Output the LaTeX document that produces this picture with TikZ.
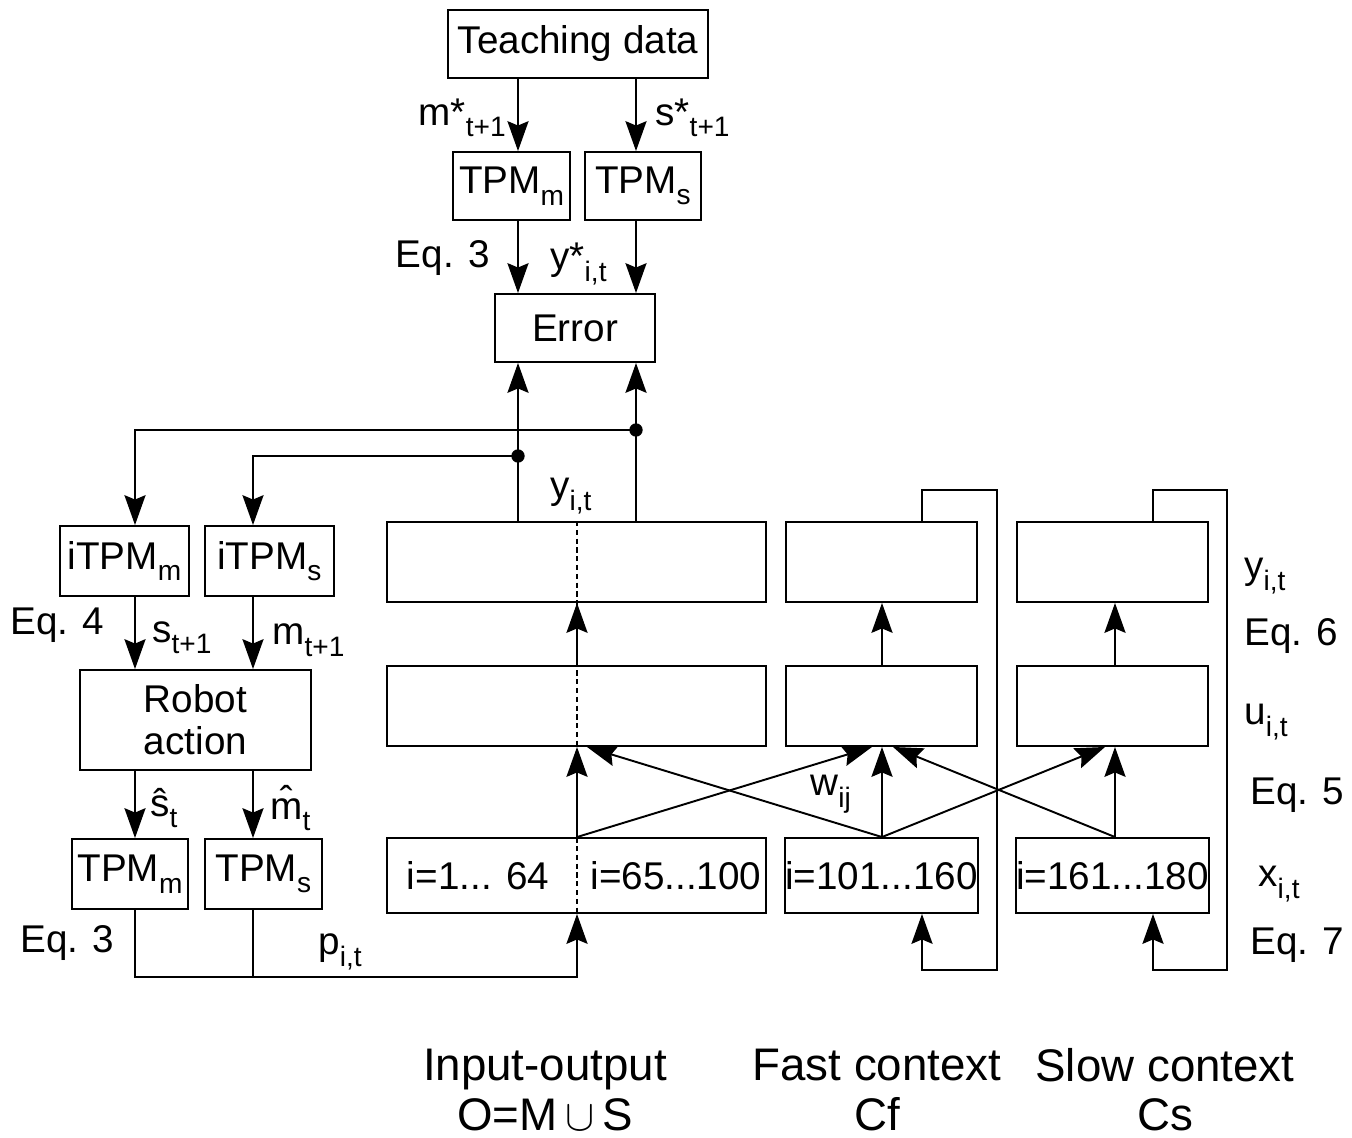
\documentclass[tikz,border=0pt]{standalone}
\usepackage{fontspec}
\setmainfont{Liberation Sans}
\usetikzlibrary{arrows.meta,positioning,calc}
\newcommand{\lowsub}[1]{\raisebox{-6.5pt}{\fontsize{16}{18}\selectfont #1}}

\begin{document}
\begin{tikzpicture}[
		x=0.02cm, y=-0.02cm,
		font=\fontsize{22}{24}\selectfont,
		box/.style   = { rectangle, draw=black, line width=1.1pt, inner sep=0pt,
			minimum height=1.36cm },
		layer/.style = { box, minimum height=1.6cm },
		lbl/.style   = { inner sep=0pt, anchor=west },
		title/.style = { align=center, font=\fontsize{26}{28}\selectfont },
		line/.style  = { draw, line width=1.1pt, -{Stealth[length=17pt,width=12pt,inset=2.5pt]} },
	]
	\useasboundingbox (0,0) rectangle (1352,1138);
	% columns the connectors run on
	\coordinate (cA) at (518,0);
	\coordinate (cB) at (636,0);
	\coordinate (cL) at (135,0);
	\coordinate (cR) at (253,0);
	\coordinate (cIO) at (577,0);
	\coordinate (cF) at (882,0);
	\coordinate (cS) at (1115,0);
	\coordinate (fbF) at (922,0);
	\coordinate (fbS) at (1153,0);
	% Define nodes
	\begin{scope}
		\node [box, minimum width=5.2cm] (teach) at (578,44) {Teaching data};
		\node [box, minimum width=2.34cm] (tpmA) at (511.5,186) {TPM\lowsub{m}};
		\node [box, minimum width=2.32cm, right=0.26cm of tpmA] (tpmB) {TPM\lowsub{s}};
		\node [box, minimum width=3.2cm] (err) at (575,328) {Error};
		\node [box, minimum width=2.58cm, minimum height=1.4cm] (itpmA) at (124.5,561) {iTPM\lowsub{m}};
		\node [box, minimum width=2.58cm, minimum height=1.4cm, right=0.28cm of itpmA] (itpmB) {iTPM\lowsub{s}};
		\node [box, minimum width=4.62cm, minimum height=2cm, align=center] (robot) at (195.5,720) {Robot\\action};
		\node [box, minimum width=2.32cm, minimum height=1.4cm] (tpmC) at (130,874) {TPM\lowsub{m}};
		\node [box, minimum width=2.34cm, minimum height=1.4cm, right=0.3cm of tpmC] (tpmD) {TPM\lowsub{s}};
		% network layers
		\node [layer, minimum width=7.58cm] (ioOut) at (576.5,562) {};
		\node [layer, minimum width=7.58cm] (ioMid) at (576.5,706) {};
		\node [layer, minimum width=7.58cm, minimum height=1.5cm] (ioIn) at (576.5,875.5) {};
		\node [layer, minimum width=3.82cm] (fOut) at (881.5,562) {};
		\node [layer, minimum width=3.82cm] (fMid) at (881.5,706) {};
		\node [layer, minimum width=3.82cm, minimum height=1.5cm] (fIn) at (881.5,875.5) {i=101...160};
		\node [layer, minimum width=3.82cm] (sOut) at (1112.5,562) {};
		\node [layer, minimum width=3.82cm] (sMid) at (1112.5,706) {};
		\node [layer, minimum width=3.82cm, minimum height=1.5cm] (sIn) at (1112.5,875.5) {i=161...180};
		\node (ioInA) at (478,876) {i=1... 64};
		\node (ioInB) at (676,876) {i=65...100};
		% labels
		\node [lbl, anchor=east] (lmstar) at (506,118) {m*\lowsub{t+1}};
		\node [lbl] (lsstar) at (655,118) {s*\lowsub{t+1}};
		\node [lbl, anchor=east] (leqA) at (490,258) {Eq. 3};
		\node [lbl] (lystar) at (550,264) {y*\lowsub{i,t}};
		\node [lbl] (lyout) at (550,496) {y\lowsub{i,t}};
		\node [lbl] (leqB) at (10,625) {Eq. 4};
		\node [lbl] (lsnext) at (152,638) {s\lowsub{t+1}};
		\node [lbl] (lmnext) at (272,640) {m\lowsub{t+1}};
		\node [lbl] (lshat) at (150,808) {\^{s}\lowsub{t}};
		\node [lbl] (lmhat) at (270,808) {\^{m}\lowsub{t}};
		\node [lbl] (leqC) at (20,943) {Eq. 3};
		\node [lbl] (lp) at (318,952) {p\lowsub{i,t}};
		\node [lbl] (lw) at (810,794) {w\lowsub{ij}};
		\node [lbl] (lyR) at (1244,576) {y\lowsub{i,t}};
		\node [lbl] (leqD) at (1244,636) {Eq. 6};
		\node [lbl] (luR) at (1244,722) {u\lowsub{i,t}};
		\node [lbl] (leqE) at (1250,795) {Eq. 5};
		\node [lbl] (lxR) at (1258,884) {x\lowsub{i,t}};
		\node [lbl] (leqF) at (1250,945) {Eq. 7};
		\node [title] (tio) at (545,1090) {Input-output\\O=M\,$\cup$\,S};
		\node [title] (tfast) at (877,1090) {Fast context\\Cf};
		\node [title] (tslow) at (1165,1090) {Slow context\\Cs};
	\end{scope}
	\coordinate (jA) at (518,456);
	\coordinate (jB) at (636,430);
	\coordinate (bus) at (577,977);
	\coordinate (fbFtop) at (997,490);
	\coordinate (fbFbot) at (997,970);
	\coordinate (fbStop) at (1227,490);
	\coordinate (fbSbot) at (1227,970);
	\draw [dash pattern=on 3pt off 2pt, line width=0.8pt] (ioOut.north -| cIO) -- (ioIn.south -| cIO);
	% connect all nodes defined above
	\begin{scope} [every path/.style=line]
		\path (teach.south -| cA) -- (tpmA.north -| cA);
		\path (teach.south -| cB) -- (tpmB.north -| cB);
		\path (tpmA.south -| cA) -- (err.north -| cA);
		\path (tpmB.south -| cB) -- (err.north -| cB);
		\path (ioOut.north -| cA) -- (err.south -| cA);
		\path (ioOut.north -| cB) -- (err.south -| cB);
		\path (jB) -| (itpmA.north -| cL);
		\path (jA) -| (itpmB.north -| cR);
		\path (itpmA.south -| cL) -- (robot.north -| cL);
		\path (itpmB.south -| cR) -- (robot.north -| cR);
		\path (robot.south -| cL) -- (tpmC.north -| cL);
		\path (robot.south -| cR) -- (tpmD.north -| cR);
		\path (tpmC.south -| cL) |- (bus) -- (ioIn.south -| cIO);
		\path[-] (tpmD.south -| cR) -- (bus -| cR);
		\path (ioIn.north -| cIO) -- (ioMid.south -| cIO);
		\path (ioMid.north -| cIO) -- (ioOut.south -| cIO);
		\path (fIn.north -| cF) -- (fMid.south -| cF);
		\path (fMid.north -| cF) -- (fOut.south -| cF);
		\path (sIn.north -| cS) -- (sMid.south -| cS);
		\path (sMid.north -| cS) -- (sOut.south -| cS);
		\path (ioIn.north -| cIO) -- ($(fMid.south -| cF)+(-10,0)$);
		\path (fIn.north -| cF) -- ($(ioMid.south -| cIO)+(10,0)$);
		\path (fIn.north -| cF) -- ($(sMid.south -| cS)+(-10,0)$);
		\path (sIn.north -| cS) -- ($(fMid.south -| cF)+(11,0)$);
		\path (fOut.north -| fbF) |- (fbFtop) -- (fbFbot) -| (fIn.south -| fbF);
		\path (sOut.north -| fbS) |- (fbStop) -- (fbSbot) -| (sIn.south -| fbS);
	\end{scope}
	\fill (jA) circle (3.8pt);
	\fill (jB) circle (3.8pt);
\end{tikzpicture}
\end{document}
